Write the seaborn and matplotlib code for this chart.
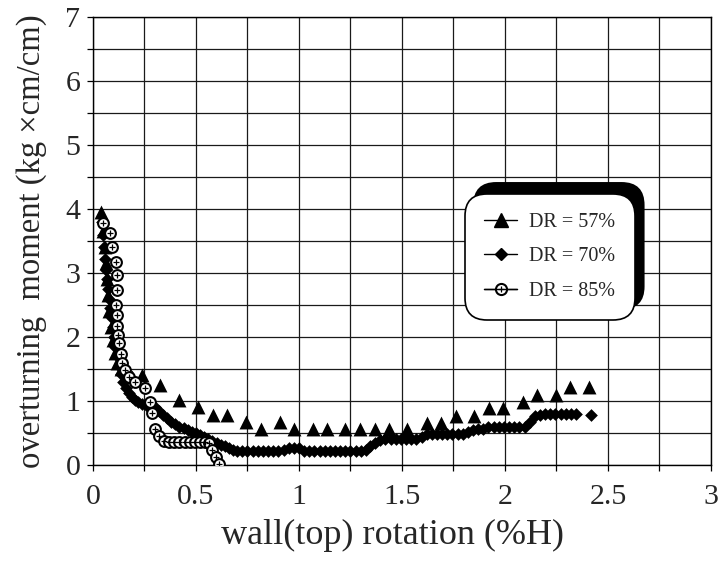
import numpy as np
import pandas as pd
import matplotlib
matplotlib.use("Agg")
import matplotlib.pyplot as plt
import seaborn as sns
from matplotlib.lines import Line2D
from matplotlib.patches import Shadow
from matplotlib.ticker import MultipleLocator, FuncFormatter

# DR = 57% (triangles)
x57 = [0.040, 0.048, 0.056, 0.062, 0.068, 0.074, 0.080, 0.088, 0.096, 0.105,
       0.118, 0.135, 0.160, 0.190, 0.236, 0.325, 0.419, 0.511, 0.581, 0.652,
       0.743, 0.816, 0.908, 0.976, 1.067, 1.134, 1.223, 1.296, 1.369, 1.438,
       1.526, 1.620, 1.688, 1.760, 1.850, 1.924, 1.990, 2.086, 2.154, 2.246,
       2.316, 2.410]
y57 = [3.95, 3.65, 3.40, 3.15, 2.90, 2.65, 2.40, 2.15, 1.95, 1.75,
       1.60, 1.50, 1.42, 1.38, 1.40, 1.25, 1.02, 0.90, 0.78, 0.78,
       0.68, 0.57, 0.68, 0.57, 0.57, 0.57, 0.57, 0.57, 0.57, 0.57,
       0.57, 0.66, 0.66, 0.77, 0.77, 0.89, 0.89, 0.99, 1.09, 1.09,
       1.22, 1.22]

# DR = 70% (diamonds)
x70 = [0.045, 0.050, 0.055, 0.060, 0.065, 0.070, 0.075, 0.080, 0.085, 0.090,
       0.095, 0.100, 0.108, 0.116, 0.125, 0.135, 0.147, 0.160, 0.175, 0.190,
       0.205, 0.220, 0.240, 0.260, 0.280, 0.300, 0.320, 0.340, 0.360, 0.380,
       0.400, 0.420, 0.440, 0.460, 0.480, 0.500, 0.520, 0.540, 0.560, 0.580,
       0.600, 0.620, 0.640, 0.660, 0.680, 0.700, 0.725, 0.750, 0.775, 0.800,
       0.825, 0.850, 0.875, 0.900, 0.925, 0.950, 0.975, 1.000, 1.025, 1.050,
       1.075, 1.100, 1.125, 1.150, 1.175, 1.200, 1.225, 1.250, 1.275, 1.300,
       1.325, 1.345, 1.370, 1.395, 1.420, 1.445, 1.470, 1.495, 1.520, 1.545,
       1.570, 1.595, 1.620, 1.645, 1.670, 1.695, 1.720, 1.745, 1.770, 1.795,
       1.820, 1.845, 1.870, 1.895, 1.920, 1.945, 1.970, 1.995, 2.020, 2.045,
       2.070, 2.095, 2.120, 2.145, 2.170, 2.195, 2.220, 2.245, 2.270, 2.295,
       2.320, 2.345, 2.420]
y70 = [3.80, 3.60, 3.40, 3.22, 3.05, 2.90, 2.75, 2.60, 2.45, 2.30,
       2.15, 2.00, 1.85, 1.70, 1.55, 1.42, 1.30, 1.20, 1.12, 1.06,
       1.02, 0.98, 0.95, 0.93, 0.91, 0.90, 0.84, 0.78, 0.74, 0.68,
       0.64, 0.60, 0.58, 0.55, 0.52, 0.50, 0.47, 0.44, 0.41, 0.38,
       0.35, 0.32, 0.29, 0.26, 0.23, 0.22, 0.22, 0.22, 0.22, 0.22,
       0.22, 0.22, 0.22, 0.22, 0.24, 0.27, 0.27, 0.26, 0.22, 0.22,
       0.22, 0.22, 0.22, 0.22, 0.22, 0.22, 0.22, 0.22, 0.22, 0.22,
       0.24, 0.29, 0.34, 0.39, 0.40, 0.40, 0.40, 0.40, 0.40, 0.40,
       0.40, 0.44, 0.48, 0.49, 0.49, 0.49, 0.49, 0.49, 0.49, 0.49,
       0.52, 0.55, 0.57, 0.57, 0.59, 0.59, 0.59, 0.59, 0.59, 0.59,
       0.59, 0.60, 0.68, 0.76, 0.78, 0.80, 0.80, 0.80, 0.80, 0.80,
       0.80, 0.80, 0.78]

# DR = 85% (circles)
x85 = [0.050, 0.085, 0.090, 0.110, 0.118, 0.115, 0.113, 0.117, 0.115, 0.122,
       0.128, 0.138, 0.140, 0.155, 0.175, 0.204, 0.252, 0.277, 0.285, 0.300,
       0.322, 0.345, 0.370, 0.395, 0.420, 0.445, 0.470, 0.495, 0.520, 0.545,
       0.565, 0.580, 0.595, 0.610]
y85 = [3.78, 3.62, 3.40, 3.18, 2.97, 2.73, 2.50, 2.35, 2.18, 2.03,
       1.90, 1.74, 1.59, 1.48, 1.38, 1.30, 1.20, 0.99, 0.81, 0.57,
       0.45, 0.37, 0.36, 0.36, 0.36, 0.36, 0.36, 0.36, 0.36, 0.36,
       0.34, 0.23, 0.12, 0.01]

labels = ["DR = 57%", "DR = 70%", "DR = 85%"]

df57 = pd.DataFrame({"rot": x57, "mom": y57})
df70 = pd.DataFrame({"rot": x70, "mom": y70})
df85 = pd.DataFrame({"rot": x85, "mom": y85})

sns.set_style("white")
plt.rcParams["font.family"] = ["Liberation Serif", "DejaVu Serif"]

fig = plt.figure(figsize=(7.18, 5.68), dpi=100)
ax = fig.add_axes([0.1295, 0.1813, 0.8607, 0.7887])

sns.scatterplot(data=df57, x="rot", y="mom", marker="^", s=100, color="black",
                edgecolor="black", linewidth=0, ax=ax, zorder=3)
sns.scatterplot(data=df70, x="rot", y="mom", marker="D", s=42, color="black",
                edgecolor="black", linewidth=0, ax=ax, zorder=4)
sns.scatterplot(data=df85, x="rot", y="mom", marker="o", s=60, color="white",
                edgecolor="black", linewidth=1.5, ax=ax, zorder=5)
sns.scatterplot(data=df85, x="rot", y="mom", marker="+", s=22, color="black",
                linewidth=0.9, ax=ax, zorder=6)

ax.set_xlim(0, 3)
ax.set_ylim(0, 7)
ax.xaxis.set_major_locator(MultipleLocator(0.5))
ax.xaxis.set_minor_locator(MultipleLocator(0.25))
ax.yaxis.set_major_locator(MultipleLocator(1))
ax.yaxis.set_minor_locator(MultipleLocator(0.5))
ax.xaxis.set_major_formatter(FuncFormatter(lambda v, p: f"{v:g}"))
ax.yaxis.set_major_formatter(FuncFormatter(lambda v, p: f"{v:g}"))
ax.grid(True, which="both", color="#1a1a1a", linewidth=0.9, zorder=0)
ax.set_axisbelow(True)
ax.tick_params(which="both", direction="out", length=4, width=0.9,
               color="black", labelsize=21.5, bottom=True, left=True)
ax.tick_params(axis="x", pad=10)
ax.tick_params(axis="y", pad=5)
for sp in ax.spines.values():
    sp.set_color("black")
    sp.set_linewidth(1.0)

ax.set_xlabel("wall(top) rotation (%H)", fontsize=26)
ax.set_ylabel("overturning  moment (kg \u00d7cm/cm)", fontsize=23.5)
ax.xaxis.set_label_coords(0.484, -0.12)
ax.yaxis.set_label_coords(-0.075, 0.5)

handles = [
    Line2D([], [], color="black", lw=1, marker="^", ms=9.5),
    Line2D([], [], color="black", lw=1, marker="D", ms=6.5),
    (Line2D([], [], color="black", lw=1, marker="o", ms=8, mfc="white",
            mec="black", mew=1.5),
     Line2D([], [], color="black", lw=1, marker="+", ms=4.5, mew=0.9)),
]
leg = ax.legend(handles, labels, loc="upper left", bbox_to_anchor=(0.602, 0.605),
                borderaxespad=0, fontsize=14.5, frameon=True, fancybox=True,
                handlelength=1.65, handletextpad=0.6, labelspacing=0.75,
                borderpad=0.95, framealpha=1)
frame = leg.get_frame()
frame.set_edgecolor("black")
frame.set_linewidth(1.2)
frame.set_boxstyle("round,pad=0,rounding_size=1.1")
leg.set_zorder(10)

fig.canvas.draw()
shadow = Shadow(leg.legendPatch, 6.5, 8, facecolor="black", edgecolor="black",
                alpha=1)
shadow.set_zorder(9.5)
ax.add_artist(shadow)
shadow.set_clip_on(False)

fig.savefig("out.png", dpi=100, facecolor="white")
